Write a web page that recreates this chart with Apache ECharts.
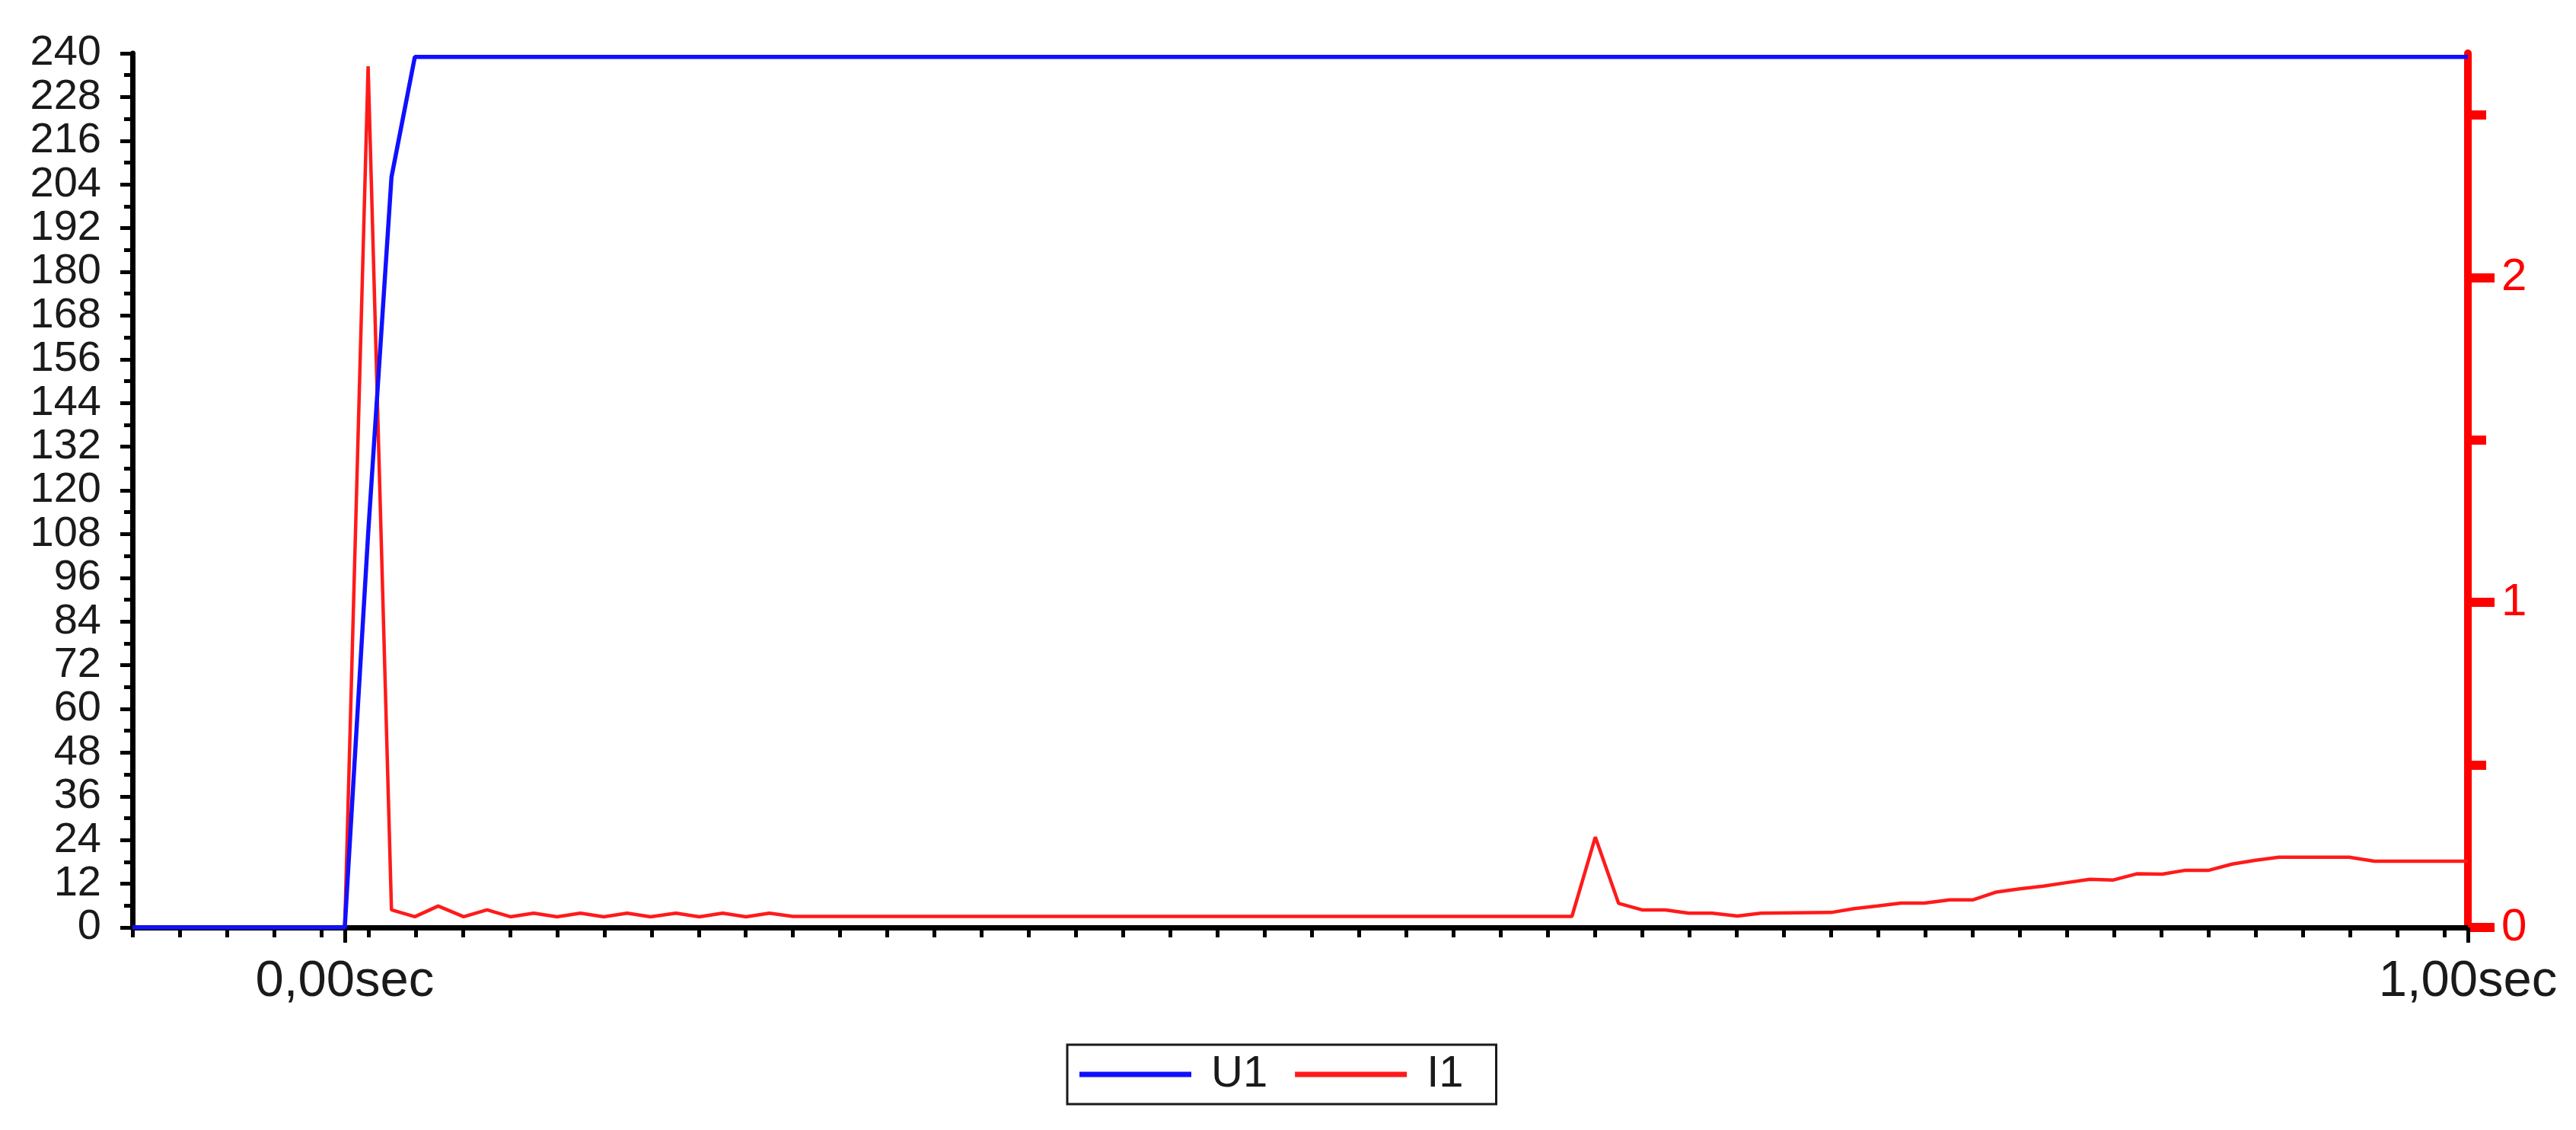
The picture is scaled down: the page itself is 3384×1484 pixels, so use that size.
<!DOCTYPE html>
<html>
<head>
<meta charset="utf-8">
<title>U1 / I1</title>
<script src="https://cdn.jsdelivr.net/npm/echarts@6/dist/echarts.min.js"></script>
<style>
  html, body { margin: 0; padding: 0; background: #fff; }
  #chart { width: 3384px; height: 1484px; }
</style>
</head>
<body>
<div id="chart"></div>
<script>
// time in seconds
var uTime = [-0.1, 0, 0.011, 0.022, 0.033, 1.0];
var uVolts = [0, 0, 108, 206, 239, 239];

var iTime = [-0.1, 0, 0.011, 0.022, 0.033, 0.044, 0.056, 0.067, 0.078, 0.089, 0.100,
  0.111, 0.122, 0.133, 0.144, 0.156, 0.167, 0.178, 0.189, 0.200, 0.211,
  0.578, 0.589, 0.600, 0.611, 0.622, 0.633, 0.644, 0.656, 0.667,
  0.700, 0.711, 0.722, 0.733, 0.744, 0.756, 0.767, 0.778, 0.789, 0.800,
  0.811, 0.822, 0.833, 0.844, 0.856, 0.867, 0.878, 0.889, 0.900, 0.911,
  0.944, 0.956, 1.000];
var iAmps = [0, 0, 2.65, 0.054, 0.033, 0.066, 0.033, 0.054, 0.033, 0.044, 0.033,
  0.044, 0.033, 0.044, 0.033, 0.044, 0.033, 0.044, 0.033, 0.044, 0.034,
  0.034, 0.278, 0.074, 0.054, 0.054, 0.044, 0.044, 0.035, 0.044,
  0.046, 0.058, 0.066, 0.075, 0.075, 0.085, 0.085, 0.109, 0.119, 0.127,
  0.138, 0.148, 0.146, 0.165, 0.164, 0.176, 0.176, 0.195, 0.207, 0.216,
  0.216, 0.204, 0.204];

var seriesNames = ['U1', 'I1'];
var timeLabels = [0, 1];
var ampLabels = [0, 1, 2];
var ampHalfTicks = [0.5, 1.5, 2.5];

// small ticks on the time axis sit on odd multiples of 1/90 s
var timeTicks = [];
for (var k = -9; k <= 89; k += 2) timeTicks.push(k / 90);

var narrow = "'Liberation Sans Narrow', 'Arial Narrow', 'Liberation Sans', Arial, sans-serif";
var regular = "'Liberation Sans', Arial, sans-serif";

var myChart = echarts.init(document.getElementById('chart'));

var option = {
  animation: false,
  backgroundColor: '#fff',
  grid: {
    left: 174, right: 142, top: 70, bottom: 266,
    containLabel: false,
    outerBoundsMode: 'none'
  },
  legend: {
    data: seriesNames,
    left: 1402,
    top: 1372,
    orient: 'horizontal',
    icon: 'rect',
    itemWidth: 147,
    itemHeight: 7,
    itemGap: 36,
    padding: [10, 43, 10, 16],
    borderColor: '#1a1a1a',
    borderWidth: 3,
    borderRadius: 0,
    backgroundColor: '#fff',
    textStyle: {
      fontFamily: narrow,
      fontSize: 58,
      color: '#1a1a1a',
      padding: [0, 0, 0, 21]
    }
  },
  xAxis: [{
    type: 'value',
    min: -0.1,
    max: 1,
    axisLine: { show: true, onZero: false, lineStyle: { color: '#000', width: 7 } },
    axisTick: { show: true, customValues: timeTicks, length: 13, lineStyle: { color: '#000', width: 5 } },
    axisLabel: { show: false },
    splitLine: { show: false }
  }, {
    type: 'value',
    min: -0.1,
    max: 1,
    position: 'bottom',
    axisLine: { show: false, onZero: false },
    axisTick: { show: true, customValues: timeLabels, length: 20, lineStyle: { color: '#000', width: 5 } },
    axisLabel: {
      show: true,
      customValues: timeLabels,
      showMinLabel: true,
      showMaxLabel: true,
      margin: 38,
      fontFamily: regular,
      fontSize: 67,
      color: '#1a1a1a',
      formatter: function (v) { return v.toFixed(2).replace('.', ',') + 'sec'; }
    },
    splitLine: { show: false }
  }],
  yAxis: [{
    type: 'value',
    min: 0,
    max: 240,
    interval: 12,
    position: 'left',
    axisLine: { show: true, onZero: false, lineStyle: { color: '#000', width: 7 } },
    axisTick: { show: true, length: 16, lineStyle: { color: '#000', width: 5 } },
    minorTick: { show: true, splitNumber: 2, length: 11, lineStyle: { color: '#000', width: 5 } },
    axisLabel: {
      margin: 41,
      showMinLabel: true,
      showMaxLabel: true,
      hideOverlap: false,
      fontFamily: narrow,
      fontSize: 56,
      color: '#1a1a1a'
    },
    splitLine: { show: false }
  }, {
    type: 'value',
    min: 0,
    max: 2.69,
    position: 'right',
    axisLine: { show: true, onZero: false, lineStyle: { color: '#ff0000', width: 10 } },
    axisTick: { show: true, customValues: ampLabels, length: 35, lineStyle: { color: '#ff0000', width: 12 } },
    axisLabel: {
      customValues: ampLabels,
      showMinLabel: true,
      margin: 44,
      fontFamily: narrow,
      fontSize: 60,
      color: '#ff0000'
    },
    splitLine: { show: false }
  }, {
    type: 'value',
    min: 0,
    max: 2.69,
    position: 'right',
    axisLine: { show: false, onZero: false },
    axisTick: { show: true, customValues: ampHalfTicks, length: 24, lineStyle: { color: '#ff0000', width: 12 } },
    axisLabel: { show: false },
    splitLine: { show: false }
  }],
  series: [{
    name: seriesNames[0],
    type: 'line',
    xAxisIndex: 0,
    yAxisIndex: 0,
    symbol: 'none',
    color: '#1010ff',
    lineStyle: { color: '#1010ff', width: 5.5 },
    z: 4,
    data: uTime.map(function (t, i) { return [t, uVolts[i]]; })
  }, {
    name: seriesNames[1],
    type: 'line',
    xAxisIndex: 0,
    yAxisIndex: 1,
    symbol: 'none',
    color: '#ff1a1a',
    lineStyle: { color: '#ff1a1a', width: 4.5 },
    z: 3,
    data: iTime.map(function (t, i) { return [t, iAmps[i]]; })
  }]
};

myChart.setOption(option);
</script>
</body>
</html>
